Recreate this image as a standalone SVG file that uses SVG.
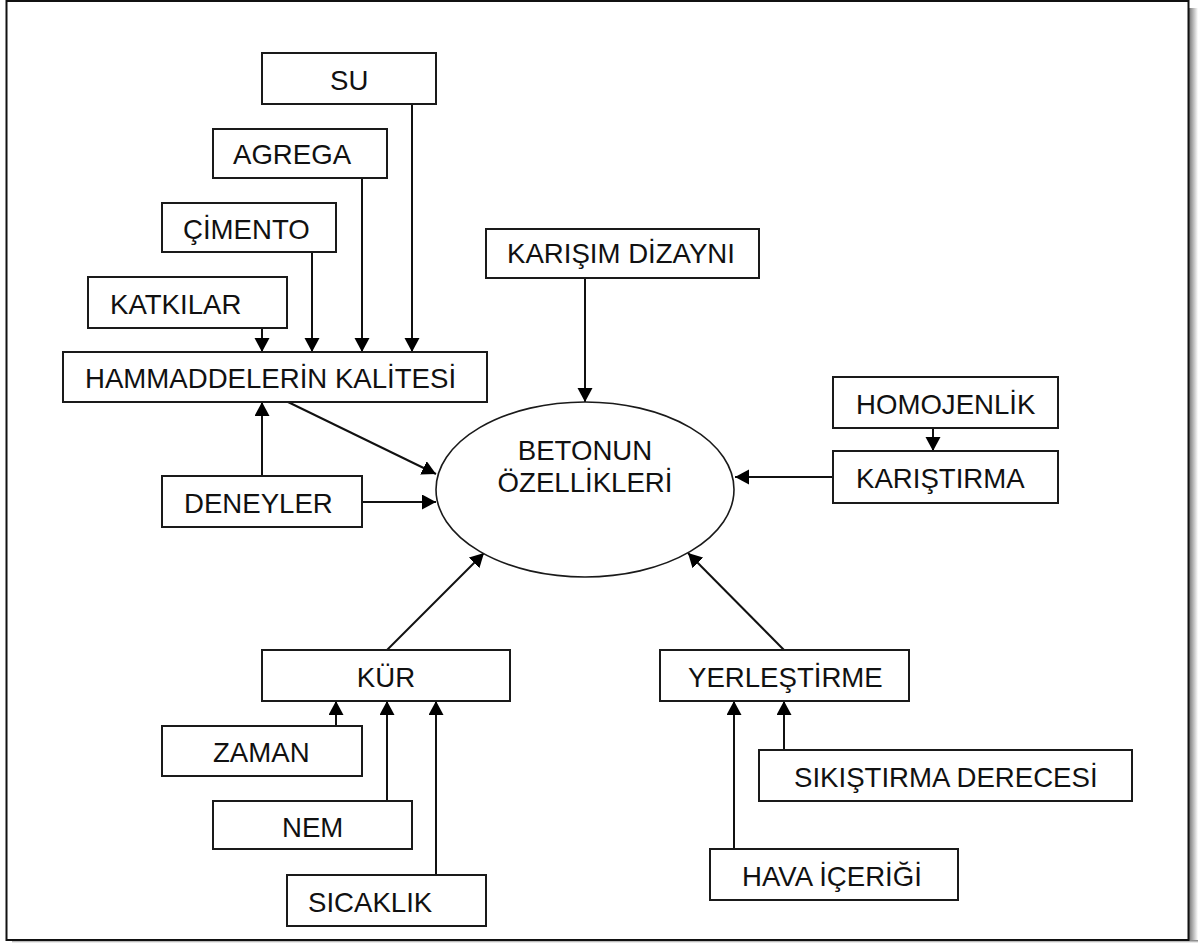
<svg xmlns="http://www.w3.org/2000/svg" width="1198" height="943" viewBox="0 0 1198 943">
<style>
.box{fill:#fff;stroke:#1a1a1a;stroke-width:2}
.ell{fill:#fff;stroke:#1a1a1a;stroke-width:1.6}
.lbl{font-family:"Liberation Sans",Arial,sans-serif;font-size:27.6px;fill:#111}
.mid{text-anchor:middle}
.con{stroke:#111;stroke-width:2;fill:none;marker-end:url(#ah)}
</style>
<defs>
<marker id="ah" markerUnits="userSpaceOnUse" markerWidth="16" markerHeight="16" refX="14" refY="7.5" orient="auto">
<path d="M0,0 L14,7.5 L0,15 z" fill="#000"/>
</marker>
<linearGradient id="shR" x1="0" y1="0" x2="1" y2="0">
<stop offset="0" stop-color="#777"/>
<stop offset="1" stop-color="#fff"/>
</linearGradient>
<linearGradient id="shB" x1="0" y1="0" x2="0" y2="1">
<stop offset="0" stop-color="#777"/>
<stop offset="1" stop-color="#fff"/>
</linearGradient>
</defs>
<rect x="0" y="0" width="1198" height="943" fill="#fff"/>
<g id="frame">
<rect x="1189" y="8" width="9" height="935" fill="url(#shR)"/>
<rect x="12" y="940" width="1186" height="3" fill="url(#shB)"/>
<rect x="6.5" y="1" width="1182" height="939" fill="#fff" stroke="#111" stroke-width="2"/>
</g>
<g id="connectors">
<line class="con" x1="262" y1="328" x2="262" y2="352"/>
<line class="con" x1="312" y1="252" x2="312" y2="352"/>
<line class="con" x1="362" y1="178" x2="362" y2="352"/>
<line class="con" x1="412" y1="104" x2="412" y2="352"/>
<line class="con" x1="262" y1="476" x2="262" y2="402"/>
<line class="con" x1="288" y1="402" x2="436" y2="474"/>
<line class="con" x1="362" y1="502" x2="436" y2="502"/>
<line class="con" x1="585" y1="278" x2="585" y2="402"/>
<line class="con" x1="933" y1="428" x2="933" y2="451"/>
<line class="con" x1="833" y1="477" x2="735" y2="477"/>
<line class="con" x1="387" y1="650" x2="484" y2="553"/>
<line class="con" x1="784" y1="650" x2="688" y2="553"/>
<line class="con" x1="336" y1="726" x2="336" y2="701"/>
<line class="con" x1="387" y1="801" x2="387" y2="701"/>
<line class="con" x1="436" y1="875" x2="436" y2="701"/>
<line class="con" x1="784" y1="750" x2="784" y2="701"/>
<line class="con" x1="734" y1="849" x2="734" y2="701"/>
</g>
<g id="su"><rect class="box" x="262" y="53" width="174" height="51"/><text class="lbl" x="330" y="90">SU</text></g>
<g id="agrega"><rect class="box" x="213" y="129" width="174" height="49"/><text class="lbl" x="233" y="164">AGREGA</text></g>
<g id="cimento"><rect class="box" x="162" y="203" width="174" height="49"/><text class="lbl" x="183" y="239">ÇİMENTO</text></g>
<g id="katkilar"><rect class="box" x="88" y="277" width="199" height="51"/><text class="lbl" x="110" y="314">KATKILAR</text></g>
<g id="hammadde"><rect class="box" x="63" y="352" width="424" height="50"/><text class="lbl" x="85" y="388">HAMMADDELERİN KALİTESİ</text></g>
<g id="karisim"><rect class="box" x="486" y="229" width="273" height="49"/><text class="lbl" x="507" y="263">KARIŞIM DİZAYNI</text></g>
<g id="beton"><ellipse class="ell" cx="585" cy="489.5" rx="149" ry="87.5"/><text class="lbl mid" x="585" y="460">BETONUN</text><text class="lbl mid" x="585" y="492">ÖZELLİKLERİ</text></g>
<g id="homojenlik"><rect class="box" x="833" y="377" width="225" height="51"/><text class="lbl" x="856" y="414">HOMOJENLİK</text></g>
<g id="karistirma"><rect class="box" x="833" y="451" width="225" height="52"/><text class="lbl" x="856" y="488">KARIŞTIRMA</text></g>
<g id="deneyler"><rect class="box" x="162" y="476" width="200" height="51"/><text class="lbl" x="184" y="513">DENEYLER</text></g>
<g id="kur"><rect class="box" x="262" y="650" width="248" height="51"/><text class="lbl mid" x="386" y="687">KÜR</text></g>
<g id="zaman"><rect class="box" x="162" y="726" width="200" height="50"/><text class="lbl" x="213" y="762">ZAMAN</text></g>
<g id="nem"><rect class="box" x="213" y="801" width="199" height="48"/><text class="lbl" x="282" y="837">NEM</text></g>
<g id="sicaklik"><rect class="box" x="287" y="875" width="199" height="51"/><text class="lbl" x="308" y="912">SICAKLIK</text></g>
<g id="yerlestirme"><rect class="box" x="660" y="650" width="249" height="51"/><text class="lbl" x="688" y="687">YERLEŞTİRME</text></g>
<g id="sikistirma"><rect class="box" x="759" y="750" width="373" height="51"/><text class="lbl" x="794" y="787">SIKIŞTIRMA DERECESİ</text></g>
<g id="hava"><rect class="box" x="710" y="849" width="248" height="51"/><text class="lbl" x="742" y="886">HAVA İÇERİĞİ</text></g>
</svg>
